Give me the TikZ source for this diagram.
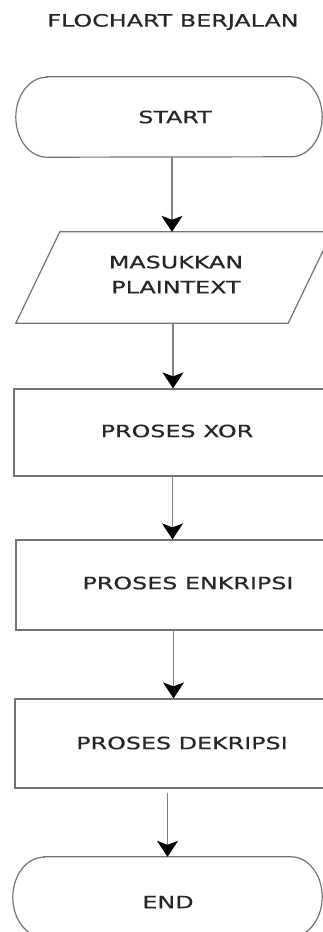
\documentclass[tikz,border=0pt]{standalone}
\usepackage{fontspec}
\setmainfont{DejaVu Sans}
\newfontfamily\labelfont{DejaVu Sans}[FakeBold=0.5]
\usetikzlibrary{arrows.meta}

% wide lettering used for all labels
\newcommand{\widetext}[1]{\scalebox{1.4}[1]{#1}}

% terminator outline with elliptical ends around an invisible node
\newcommand{\drawterm}[1]{%
  \draw[outline] ([xshift=31pt]#1.north west) -- ([xshift=-31pt]#1.north east)
    arc[start angle=90, end angle=-90, x radius=31pt, y radius=40pt]
    -- ([xshift=31pt]#1.south west)
    arc[start angle=270, end angle=90, x radius=31pt, y radius=40pt] -- cycle;}

\begin{document}
\begin{tikzpicture}[x=1pt, y=1pt,
  outline/.style={draw=black!55, line width=1.2pt},
  holder/.style={draw=none, inner sep=0pt, minimum width=#1},
  procbox/.style={outline, rectangle, inner sep=0pt, minimum height=#1},
  link/.style={draw=black!50, line width=1.1pt,
    -{Stealth[length=16pt, width=21pt, inset=4pt, color=black]}},
  lbl/.style={inner sep=0pt, text=black!85, align=center,
    font=\labelfont\fontsize{17}{25}\selectfont}]

\useasboundingbox (0,0) rectangle (323,-932);

% title
\node[lbl] (title) at (173,-22) {\widetext{FLOCHART BERJALAN}};

% start terminator
\node[holder=306pt, minimum height=80pt] (start) at (169,-117) {};
\drawterm{start}
\node[lbl] (startlbl) at (175,-117) {\widetext{START}};

% input parallelogram
\node[holder=272pt, minimum height=91pt] (input) at (174,-277.5) {};
\draw[outline] ([xshift=-22pt]input.south west) -- ([xshift=-22pt]input.south east)
  -- ([xshift=22pt]input.north east) -- ([xshift=22pt]input.north west) -- cycle;
\node[lbl] (inputlbl) at (176,-274.5) {\widetext{MASUKKAN}\\\widetext{PLAINTEXT}};

% process boxes
\node[procbox=87pt, minimum width=317pt] (xor) at (172.5,-432.5) {};
\node[lbl] (xorlbl) at (177,-431) {\widetext{PROSES XOR}};

\node[procbox=90pt, minimum width=315pt] (enk) at (173.5,-585) {};
\node[lbl] (enklbl) at (188,-583) {\widetext{PROSES ENKRIPSI}};

\node[procbox=89pt, minimum width=316pt] (dek) at (173,-743.5) {};
\node[lbl] (deklbl) at (182,-743) {\widetext{PROSES DEKRIPSI}};

% end terminator
\node[holder=309pt, minimum height=80pt] (fin) at (167.5,-897) {};
\drawterm{fin}
\node[lbl] (finlbl) at (168,-902) {\widetext{END}};

% connectors
\draw[link] ([xshift=3pt]start.south) -- ([xshift=3pt]start.south |- input.north);
\draw[link] ([xshift=-1pt]input.south) -- ([xshift=-1pt]input.south |- xor.north);
\draw[link] (xor.south) -- (xor.south |- enk.north);
\draw[link] (enk.south) -- (enk.south |- dek.north);
\draw[link] ([yshift=-4pt]dek.south -| fin.north) -- (fin.north);
\end{tikzpicture}
\end{document}
